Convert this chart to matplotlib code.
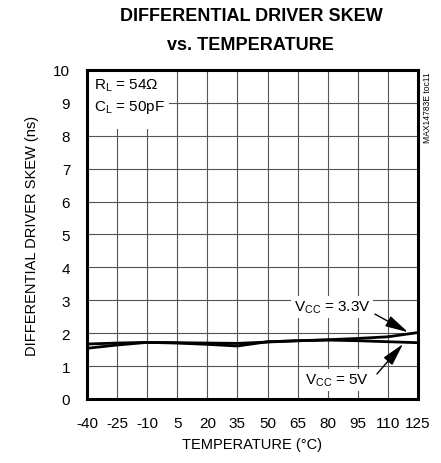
import matplotlib
matplotlib.use("Agg")
import matplotlib.pyplot as plt
from matplotlib import font_manager

temps = [-40, -25, -10, 5, 20, 35, 50, 65, 80, 95, 110, 125]
skew_33 = [1.54, 1.64, 1.72, 1.70, 1.66, 1.61, 1.74, 1.77, 1.80, 1.84, 1.89, 2.02]
skew_5 = [1.67, 1.70, 1.72, 1.71, 1.70, 1.69, 1.73, 1.77, 1.79, 1.77, 1.74, 1.71]
xticks = [-40, -25, -10, 5, 20, 35, 50, 65, 80, 95, 110, 125]
yticks = list(range(0, 11))

names = {f.name for f in font_manager.fontManager.ttflist}
if 'Liberation Sans Narrow' in names:
    NARROW = ['Liberation Sans Narrow', 'Liberation Sans', 'DejaVu Sans']
    k = 1.0
else:
    NARROW = ['Liberation Sans', 'DejaVu Sans']
    k = 0.88

plt.rcParams['font.family'] = NARROW
plt.rcParams['axes.unicode_minus'] = False
plt.rcParams['mathtext.fontset'] = 'custom'
plt.rcParams['mathtext.rm'] = NARROW[0]

fig = plt.figure(figsize=(4.41, 4.64), dpi=100)
ax = fig.add_axes([0.197, 0.138, 0.751, 0.709])

ax.plot(temps, skew_33, color='black', lw=2.0, zorder=3)
ax.plot(temps, skew_5, color='black', lw=2.0, zorder=3)

ax.set_xlim(-40, 125)
ax.set_ylim(0, 10)
ax.set_xticks(xticks)
ax.set_yticks(yticks)
ax.tick_params(axis='x', length=0, labelsize=12.5 * k, pad=12)
ax.tick_params(axis='y', length=0, labelsize=12.5 * k, pad=12)
ax.grid(True, color='#555555', lw=0.8)
ax.set_axisbelow(True)
for s in ax.spines.values():
    s.set_linewidth(2.2)

ax.set_xlabel('TEMPERATURE (°C)', fontsize=12 * k, labelpad=5)
ax.set_ylabel('DIFFERENTIAL DRIVER SKEW (ns)', fontsize=12 * k, labelpad=10)

fig.text(0.569, 0.964, 'DIFFERENTIAL DRIVER SKEW', ha='center', va='center',
         fontsize=13, fontweight='bold', family=['Liberation Sans', 'DejaVu Sans'])
fig.text(0.569, 0.903, 'vs. TEMPERATURE', ha='center', va='center',
         fontsize=13, fontweight='bold', family=['Liberation Sans', 'DejaVu Sans'])

# white block behind the condition text
ax.fill_between([-40, 1], 8.2, 10, color='white', zorder=2, lw=0)
ax.text(-36.5, 9.55, '$\\mathregular{R_L}$ = 54Ω', ha='left', va='center',
        fontsize=12.5 * k, zorder=4)
ax.text(-36.5, 8.88, '$\\mathregular{C_L}$ = 50pF', ha='left', va='center',
        fontsize=12.5 * k, zorder=4)

arrow = dict(arrowstyle='-|>,head_length=1.0,head_width=0.25', color='black', lw=1,
             shrinkA=0, shrinkB=0, mutation_scale=14)
ax.annotate('', xy=(120, 2.03), xytext=(103.5, 2.58), arrowprops=arrow, zorder=5)
ax.annotate('', xy=(117.5, 1.67), xytext=(104.5, 0.76), arrowprops=arrow, zorder=5)
ax.text(82.1, 2.8, '$\\mathregular{V_{CC}}$ = 3.3V', ha='center', va='center',
        fontsize=12.5 * k, zorder=6,
        bbox=dict(facecolor='white', edgecolor='none', pad=2))
ax.text(84.6, 0.57, '$\\mathregular{V_{CC}}$ = 5V', ha='center', va='center',
        fontsize=12.5 * k, zorder=6,
        bbox=dict(facecolor='white', edgecolor='none', pad=2))

fig.text(0.970, 0.845, 'MAX14783E toc11', rotation=90, ha='center', va='top',
         fontsize=7 * k)

fig.savefig('out.png', dpi=100)
